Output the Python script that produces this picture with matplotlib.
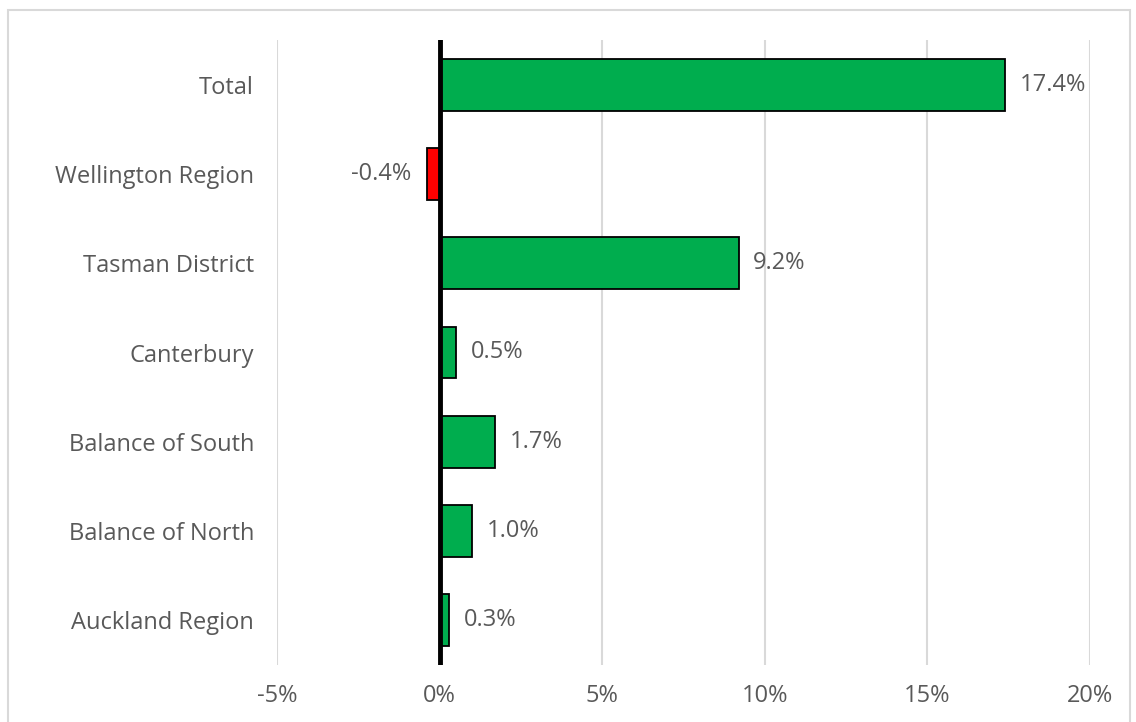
import matplotlib
matplotlib.use('Agg')
import matplotlib.pyplot as plt
from matplotlib.patches import Rectangle

plt.rcParams['font.family'] = ['Open Sans', 'DejaVu Sans']

categories = ['Auckland Region', 'Balance of North', 'Balance of South', 'Canterbury',
              'Tasman District', 'Wellington Region', 'Total']
values = [0.3, 1.0, 1.7, 0.5, 9.2, -0.4, 17.4]
xticks = [-5, 0, 5, 10, 15, 20]

green = '#00AD4E'
red = '#FF0000'
grey = '#595959'

fig = plt.figure(figsize=(11.36, 7.22), dpi=100)
ax = fig.add_axes([277 / 1136, 1 - 665 / 722, (1090 - 277) / 1136, (665 - 40) / 722])

y = range(len(categories))
colors = [green if v >= 0 else red for v in values]
ax.barh(y, values, height=0.58, color=colors, edgecolor='black', linewidth=1.3, zorder=3)

for yi, v in zip(y, values):
    if v >= 0:
        ax.annotate(f'{v:.1f}%', (v, yi), xytext=(10.5, 0), textcoords='offset points',
                    ha='left', va='center', fontsize=17, color=grey)
    else:
        ax.annotate(f'{v:.1f}%', (v, yi), xytext=(-11, 0), textcoords='offset points',
                    ha='right', va='center', fontsize=17, color=grey)

ax.axvline(0, color='black', linewidth=3.5, zorder=4)

ax.set_xlim(-5, 20)
ax.set_ylim(-0.5, len(categories) - 0.5)
ax.set_xticks(xticks)
ax.set_xticklabels([f'{t}%' for t in xticks])
ax.set_yticks(list(y))
ax.set_yticklabels(categories)
ax.tick_params(axis='both', length=0, labelsize=17, labelcolor=grey)
ax.tick_params(axis='x', pad=14)
ax.tick_params(axis='y', pad=16.5)
ax.grid(axis='x', color='#D9D9D9', linewidth=1.5, zorder=0)
for s in ax.spines.values():
    s.set_visible(False)

fig.patches.append(Rectangle((8 / 1136, -0.05), (1130 - 8) / 1136, 1 - 10 / 722 + 0.05,
                             transform=fig.transFigure, fill=False,
                             edgecolor='#D9D9D9', linewidth=1.5))

fig.savefig('out.png', dpi=100)
